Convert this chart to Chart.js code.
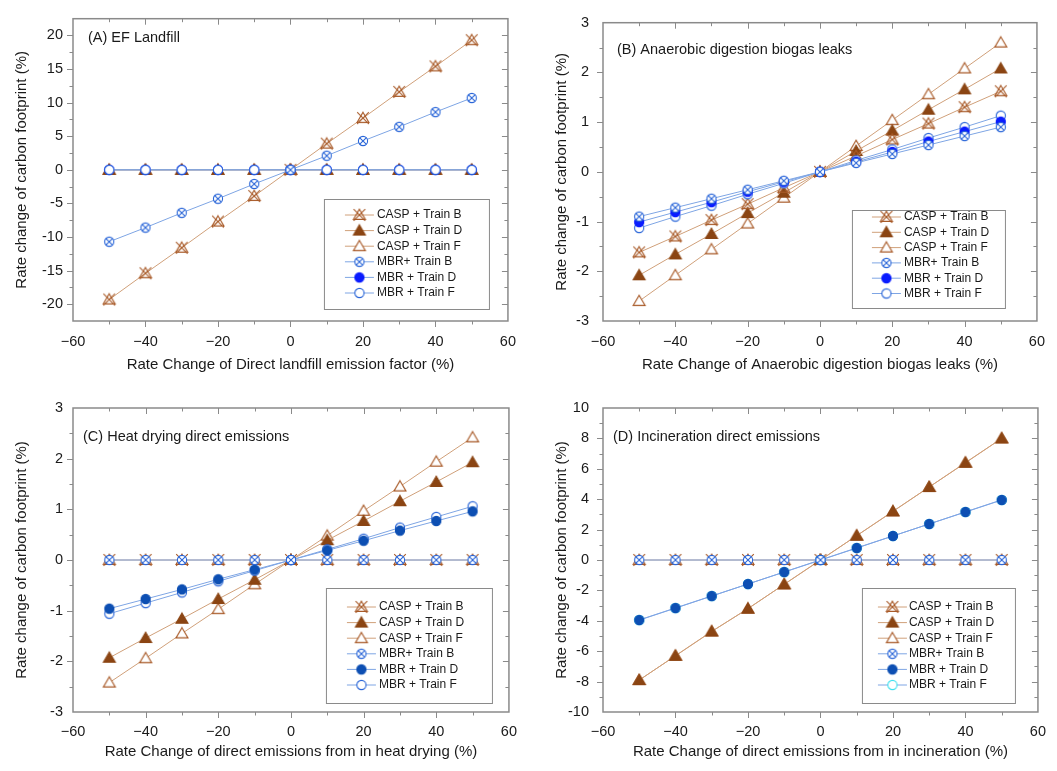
<!DOCTYPE html>
<html>
<head>
<meta charset="utf-8">
<script src="https://cdn.jsdelivr.net/npm/chart.js@4.4.1/dist/chart.umd.min.js"></script>
<style>
  body { margin: 0; background: #fff; }
  #wrap { position: relative; width: 1057px; height: 771px; }
  canvas { position: absolute; }
</style>
</head>
<body>
<div id="wrap">
  <canvas id="chartA" width="528" height="385" style="left:0;top:0"></canvas>
  <canvas id="chartB" width="529" height="385" style="left:528px;top:0"></canvas>
  <canvas id="chartC" width="528" height="386" style="left:0;top:385px"></canvas>
  <canvas id="chartD" width="529" height="386" style="left:528px;top:385px"></canvas>
</div>
<script>
// x values shared by all panels
const xVals = [-50, -40, -30, -20, -10, 0, 10, 20, 30, 40, 50];
const seriesNames = ['CASP + Train B', 'CASP + Train D', 'CASP + Train F', 'MBR+ Train B', 'MBR + Train D', 'MBR + Train F'];

// (A) EF Landfill
const aCaspB = [-19.3, -15.4, -11.6, -7.7, -3.9, 0, 3.9, 7.7, 11.6, 15.4, 19.3];
const aCaspD = [0, 0, 0, 0, 0, 0, 0, 0, 0, 0, 0];
const aCaspF = [0, 0, 0, 0, 0, 0, 0, 0, 0, 0, 0];
const aMbrB  = [-10.7, -8.6, -6.4, -4.3, -2.1, 0, 2.1, 4.3, 6.4, 8.6, 10.7];
const aMbrD  = [0, 0, 0, 0, 0, 0, 0, 0, 0, 0, 0];
const aMbrF  = [0, 0, 0, 0, 0, 0, 0, 0, 0, 0, 0];

// (B) Anaerobic digestion biogas leaks
const bCaspB = [-1.62, -1.3, -0.97, -0.65, -0.32, 0, 0.32, 0.65, 0.97, 1.3, 1.62];
const bCaspD = [-2.08, -1.66, -1.25, -0.83, -0.42, 0, 0.42, 0.83, 1.25, 1.66, 2.08];
const bCaspF = [-2.6, -2.08, -1.56, -1.04, -0.52, 0, 0.52, 1.04, 1.56, 2.08, 2.6];
const bMbrB  = [-0.9, -0.72, -0.54, -0.36, -0.18, 0, 0.18, 0.36, 0.54, 0.72, 0.9];
const bMbrD  = [-1.01, -0.81, -0.61, -0.4, -0.2, 0, 0.2, 0.4, 0.61, 0.81, 1.01];
const bMbrF  = [-1.13, -0.9, -0.68, -0.45, -0.23, 0, 0.23, 0.45, 0.68, 0.9, 1.13];

// (C) Heat drying direct emissions
const cCaspB = [0, 0, 0, 0, 0, 0, 0, 0, 0, 0, 0];
const cCaspD = [-1.93, -1.54, -1.16, -0.77, -0.39, 0, 0.39, 0.77, 1.16, 1.54, 1.93];
const cCaspF = [-2.42, -1.94, -1.45, -0.97, -0.48, 0, 0.48, 0.97, 1.45, 1.94, 2.42];
const cMbrB  = [0, 0, 0, 0, 0, 0, 0, 0, 0, 0, 0];
const cMbrD  = [-0.96, -0.77, -0.58, -0.38, -0.19, 0, 0.19, 0.38, 0.58, 0.77, 0.96];
const cMbrF  = [-1.06, -0.85, -0.64, -0.42, -0.21, 0, 0.21, 0.42, 0.64, 0.85, 1.06];

// (D) Incineration direct emissions
const dCaspB = [0, 0, 0, 0, 0, 0, 0, 0, 0, 0, 0];
const dCaspD = [-7.9, -6.3, -4.7, -3.2, -1.6, 0, 1.6, 3.2, 4.8, 6.4, 8.0];
const dCaspF = [-7.9, -6.3, -4.7, -3.2, -1.6, 0, 1.6, 3.2, 4.8, 6.4, 8.0];
const dMbrB  = [0, 0, 0, 0, 0, 0, 0, 0, 0, 0, 0];
const dMbrD  = [-3.95, -3.16, -2.37, -1.58, -0.79, 0, 0.79, 1.58, 2.37, 3.16, 3.95];
const dMbrF  = [-3.95, -3.16, -2.37, -1.58, -0.79, 0, 0.79, 1.58, 2.37, 3.16, 3.95];

const FONT = '"Liberation Sans", Arial, sans-serif';
const TXT = '#1a1a1a';
const caspLine = '#d0a07a', caspEdge = '#a85a28', caspFill = '#8b4513';
const mbrLine = '#7ea5e4', mbrEdge = '#2a66d8';

// marker images, drawn once and used as pointStyle
function marker(kind, stroke, fill) {
  const c = document.createElement('canvas');
  c.width = 16; c.height = 16;
  const g = c.getContext('2d');
  const m = 8;
  g.lineWidth = 1.1;
  g.strokeStyle = stroke;
  g.fillStyle = fill;
  if (kind.startsWith('tri')) {
    g.beginPath();
    g.moveTo(m, m - 5.8);
    g.lineTo(m + 6, m + 4.4);
    g.lineTo(m - 6, m + 4.4);
    g.closePath();
    g.fill(); g.stroke();
  } else {
    g.beginPath();
    g.arc(m, m, 4.6, 0, Math.PI * 2);
    g.fill(); g.stroke();
  }
  if (kind === 'triX') {
    g.beginPath();
    g.moveTo(m - 5.8, m - 5.8); g.lineTo(m + 5.8, m + 5.8);
    g.moveTo(m + 5.8, m - 5.8); g.lineTo(m - 5.8, m + 5.8);
    g.stroke();
  }
  if (kind === 'circX') {
    g.beginPath();
    g.moveTo(m - 3.2, m - 3.2); g.lineTo(m + 3.2, m + 3.2);
    g.moveTo(m + 3.2, m - 3.2); g.lineTo(m - 3.2, m + 3.2);
    g.stroke();
  }
  return c;
}

function points(vals) {
  return xVals.map((x, i) => ({ x: x, y: vals[i] }));
}

// draws the box frame with inward ticks on top/right and outward on bottom/left
const framePlugin = {
  id: 'frame',
  afterDatasetsDraw(chart) {
    const { ctx, chartArea: a, scales: { x, y } } = chart;
    ctx.save();
    ctx.strokeStyle = '#8a8a8a';
    ctx.lineWidth = 1.5;
    ctx.strokeRect(a.left, a.top, a.right - a.left, a.bottom - a.top);
    ctx.lineWidth = 1;
    ctx.beginPath();
    x.ticks.forEach(t => {
      if (t.value <= x.min || t.value >= x.max) return;
      const px = Math.round(x.getPixelForValue(t.value)) + 0.5;
      const len = t.label ? 6 : 3.5;
      ctx.moveTo(px, a.bottom); ctx.lineTo(px, a.bottom + len);
      ctx.moveTo(px, a.top); ctx.lineTo(px, a.top + len);
    });
    y.ticks.forEach(t => {
      if (t.value <= y.min || t.value >= y.max) return;
      const py = Math.round(y.getPixelForValue(t.value)) + 0.5;
      const len = t.label ? 6 : 3.5;
      ctx.moveTo(a.left, py); ctx.lineTo(a.left - len, py);
      ctx.moveTo(a.right, py); ctx.lineTo(a.right - len, py);
    });
    ctx.stroke();
    ctx.restore();
  },
  afterDraw(chart) {
    const o = chart.options.plugins.boxLegend;
    const { ctx, chartArea: a } = chart;
    ctx.save();
    // panel label
    ctx.fillStyle = TXT;
    ctx.font = '14.5px ' + FONT;
    ctx.textBaseline = 'middle';
    ctx.fillText(o.title, a.left + o.titleX, a.top + o.titleY);
    // legend box
    const left = a.right - o.right - o.w;
    const top = a.bottom - o.bottom - o.h;
    ctx.strokeStyle = '#8a8a8a';
    ctx.lineWidth = 1;
    ctx.strokeRect(left + 0.5, top + 0.5, o.w, o.h);
    ctx.font = '12px ' + FONT;
    chart.data.datasets.forEach((ds, i) => {
      const ry = top + o.first + i * o.rowH;
      ctx.strokeStyle = ds.borderColor;
      ctx.beginPath();
      ctx.moveTo(left + o.line0, ry);
      ctx.lineTo(left + o.line0 + 29, ry);
      ctx.stroke();
      const img = ds.pointStyle;
      ctx.drawImage(img, left + o.line0 + 14.5 - img.width / 2, ry - img.height / 2);
      ctx.fillStyle = TXT;
      ctx.fillText(ds.label, left + o.text, ry);
    });
    ctx.restore();
  }
};

function makeChart(id, p) {
  const styles = [
    marker('triX', caspEdge, 'rgba(0,0,0,0)'),
    marker('tri', caspFill, caspFill),
    marker('tri', caspEdge, '#ffffff'),
    marker('circX', mbrEdge, '#ffffff'),
    marker('circ', p.mbrDFill, p.mbrDFill),
    marker('circ', p.mbrFEdge, '#ffffff')
  ];
  const datasets = p.series.map((vals, i) => ({
    label: seriesNames[i],
    data: points(vals),
    borderColor: i < 3 ? caspLine : mbrLine,
    borderWidth: 1,
    pointStyle: styles[i],
    pointRadius: 5,
    order: p.order[i]
  }));
  const isMajorX = v => Math.abs(v / 20 - Math.round(v / 20)) < 1e-6;
  const isMajorY = v => Math.abs(v / p.yMajor - Math.round(v / p.yMajor)) < 1e-6;
  return new Chart(document.getElementById(id), {
    type: 'line',
    data: { datasets },
    plugins: [framePlugin],
    options: {
      responsive: false,
      animation: false,
      layout: { padding: { top: p.top, right: p.right, left: 0, bottom: 0 } },
      plugins: {
        legend: { display: false },
        tooltip: { enabled: false },
        boxLegend: p.legend
      },
      scales: {
        x: {
          type: 'linear', min: -60, max: 60,
          grid: { display: false, drawTicks: false },
          border: { display: false },
          afterFit: s => { s.height = p.xH; },
          ticks: {
            stepSize: 10, autoSkip: false, maxRotation: 0, padding: p.xPad,
            color: TXT, font: { family: FONT, size: 14.5 },
            callback: v => isMajorX(v) ? (v < 0 ? '\u2212' + Math.abs(v) : String(v)) : ''
          },
          title: {
            display: true, text: p.xTitle, color: TXT,
            font: { family: FONT, size: 15 }, padding: { top: 0, bottom: p.xTitlePad }
          }
        },
        y: {
          min: p.yMin, max: p.yMax,
          grid: { display: false, drawTicks: false },
          border: { display: false },
          afterFit: s => { s.width = p.yW; },
          ticks: {
            stepSize: p.yStep, autoSkip: false, padding: p.yPad,
            color: TXT, font: { family: FONT, size: 14.5 },
            callback: v => isMajorY(v) ? String(Math.round(v)) : ''
          },
          title: {
            display: true, text: 'Rate change of carbon footprint (%)', color: TXT,
            font: { family: FONT, size: 15 }, padding: { top: p.yTitlePad, bottom: 0 }
          }
        }
      }
    }
  });
}

// lower order = drawn on top
makeChart('chartA', {
  series: [aCaspB, aCaspD, aCaspF, aMbrB, aMbrD, aMbrF],
  order: [4, 5, 5, 1, 3, 2],
  xTitle: 'Rate Change of Direct landfill emission factor (%)',
  yMin: -22.5, yMax: 22.5, yStep: 2.5, yMajor: 5,
  top: 15, right: 18, yW: 73, xH: 64, xPad: 12, yPad: 10, xTitlePad: 11, yTitlePad: 13,
  mbrDFill: '#0a1cff', mbrFEdge: mbrEdge,
  legend: { title: '(A) EF Landfill', titleX: 15, titleY: 19,
    w: 165, h: 110, right: 19, bottom: 12, first: 16, rowH: 15.6, line0: 21, text: 53 }
});

makeChart('chartB', {
  series: [bCaspB, bCaspD, bCaspF, bMbrB, bMbrD, bMbrF],
  order: [4, 4, 4, 1, 2, 3],
  xTitle: 'Rate Change of Anaerobic digestion biogas leaks (%)',
  yMin: -3, yMax: 3, yStep: 0.5, yMajor: 1,
  top: 15, right: 19, yW: 75, xH: 64, xPad: 12, yPad: 14, xTitlePad: 11, yTitlePad: 25,
  mbrDFill: '#0a1cff', mbrFEdge: mbrEdge,
  legend: { title: '(B) Anaerobic digestion biogas leaks', titleX: 14, titleY: 27,
    w: 153, h: 98, right: 32, bottom: 13, first: 7, rowH: 15.3, line0: 20, text: 52 }
});

makeChart('chartC', {
  series: [cCaspB, cCaspD, cCaspF, cMbrB, cMbrD, cMbrF],
  order: [4, 4, 4, 1, 2, 3],
  xTitle: 'Rate Change of direct emissions from in heat drying (%)',
  yMin: -3, yMax: 3, yStep: 0.5, yMajor: 1,
  top: 23, right: 18, yW: 73, xH: 59, xPad: 11, yPad: 10, xTitlePad: 10, yTitlePad: 13,
  mbrDFill: '#0d4fb3', mbrFEdge: mbrEdge,
  legend: { title: '(C) Heat drying direct emissions', titleX: 10, titleY: 29,
    w: 166, h: 115, right: 17, bottom: 9, first: 19, rowH: 15.6, line0: 21, text: 53 }
});

makeChart('chartD', {
  series: [dCaspB, dCaspD, dCaspF, dMbrB, dMbrD, dMbrF],
  order: [4, 4, 5, 1, 2, 3],
  xTitle: 'Rate Change of direct emissions from in incineration (%)',
  yMin: -10, yMax: 10, yStep: 1, yMajor: 2,
  top: 23, right: 19, yW: 75, xH: 59, xPad: 11, yPad: 14, xTitlePad: 10, yTitlePad: 25,
  mbrDFill: '#0d4fb3', mbrFEdge: '#3fe0ee',
  legend: { title: '(D) Incineration direct emissions', titleX: 10, titleY: 29,
    w: 153, h: 115, right: 23, bottom: 9, first: 19, rowH: 15.6, line0: 16, text: 47 }
});
</script>
</body>
</html>
